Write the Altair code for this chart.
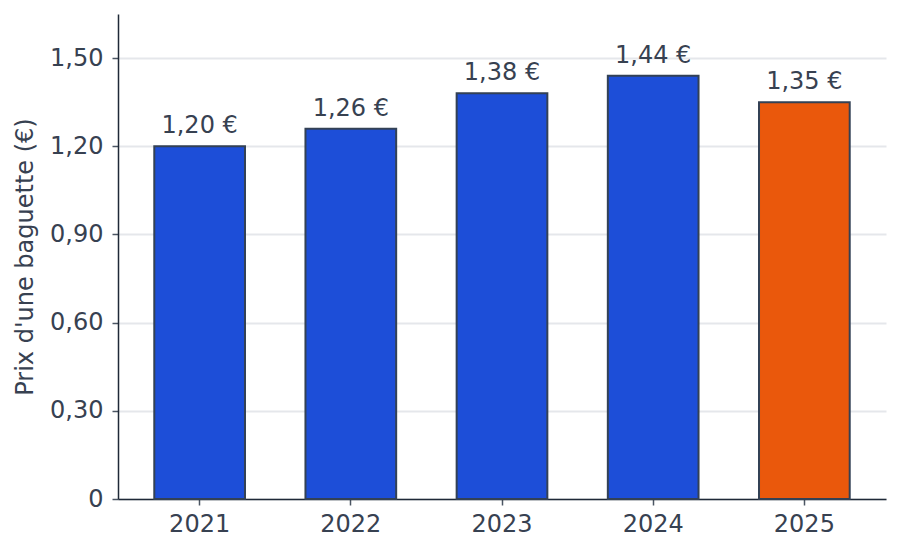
import altair as alt
import pandas as pd

annees = ["2021", "2022", "2023", "2024", "2025"]
prix = [1.20, 1.26, 1.38, 1.44, 1.35]
mise_en_avant = [False, False, False, False, True]
y_ticks = [0, 0.30, 0.60, 0.90, 1.20, 1.50]

df = pd.DataFrame({"annee": annees, "prix": prix, "highlight": mise_en_avant})

FONT = "DejaVu Sans"
TEXT = "#374151"
BLUE = "#1d4ed8"
ORANGE = "#ea580c"
FS = 24

base = alt.Chart(df).encode(
    x=alt.X(
        "annee:N",
        sort=annees,
        scale=alt.Scale(paddingInner=0.4, paddingOuter=0.24),
        axis=alt.Axis(
            title=None,
            labelAngle=0,
            labelFont=FONT,
            labelFontSize=FS,
            labelColor=TEXT,
            labelPadding=7,
            tickSize=6,
            tickColor="#4b5563",
            tickWidth=1.5,
            domainColor="#1f2937",
            domainWidth=1.5,
            grid=False,
        ),
    ),
    y=alt.Y(
        "prix:Q",
        scale=alt.Scale(domain=[0, 1.65], nice=False),
        axis=alt.Axis(
            title="Prix d'une baguette (€)",
            titleFont=FONT,
            titleFontSize=FS,
            titleFontWeight="normal",
            titleColor=TEXT,
            titlePadding=12,
            values=y_ticks,
            labelExpr="datum.value == 0 ? '0' : replace(format(datum.value, '.2f'), '.', ',')",
            labelFont=FONT,
            labelFontSize=FS,
            labelColor=TEXT,
            labelPadding=9,
            tickSize=6,
            tickColor="#4b5563",
            tickWidth=1.5,
            domainColor="#1f2937",
            domainWidth=1.5,
            grid=True,
            gridColor="#e5e7eb",
            gridWidth=1.8,
        ),
    ),
)

bars = base.mark_bar(stroke="#334155", strokeWidth=2).encode(
    color=alt.condition(alt.datum.highlight, alt.value(ORANGE), alt.value(BLUE))
)

labels = base.transform_calculate(
    lab="replace(format(datum.prix, '.2f'), '.', ',') + ' €'"
).mark_text(
    font=FONT, fontSize=FS, color=TEXT, baseline="alphabetic", dy=-13
).encode(text="lab:N")

chart = (
    (bars + labels)
    .properties(
        width=768,
        height=485,
        background="white",
        autosize=alt.AutoSizeParams(type="none"),
        padding={"left": 110, "top": 6, "right": 7, "bottom": 47},
    )
    .configure_view(stroke="transparent", strokeWidth=0)
)

chart.save("out.html", embed_options={"renderer": "svg", "actions": False})
